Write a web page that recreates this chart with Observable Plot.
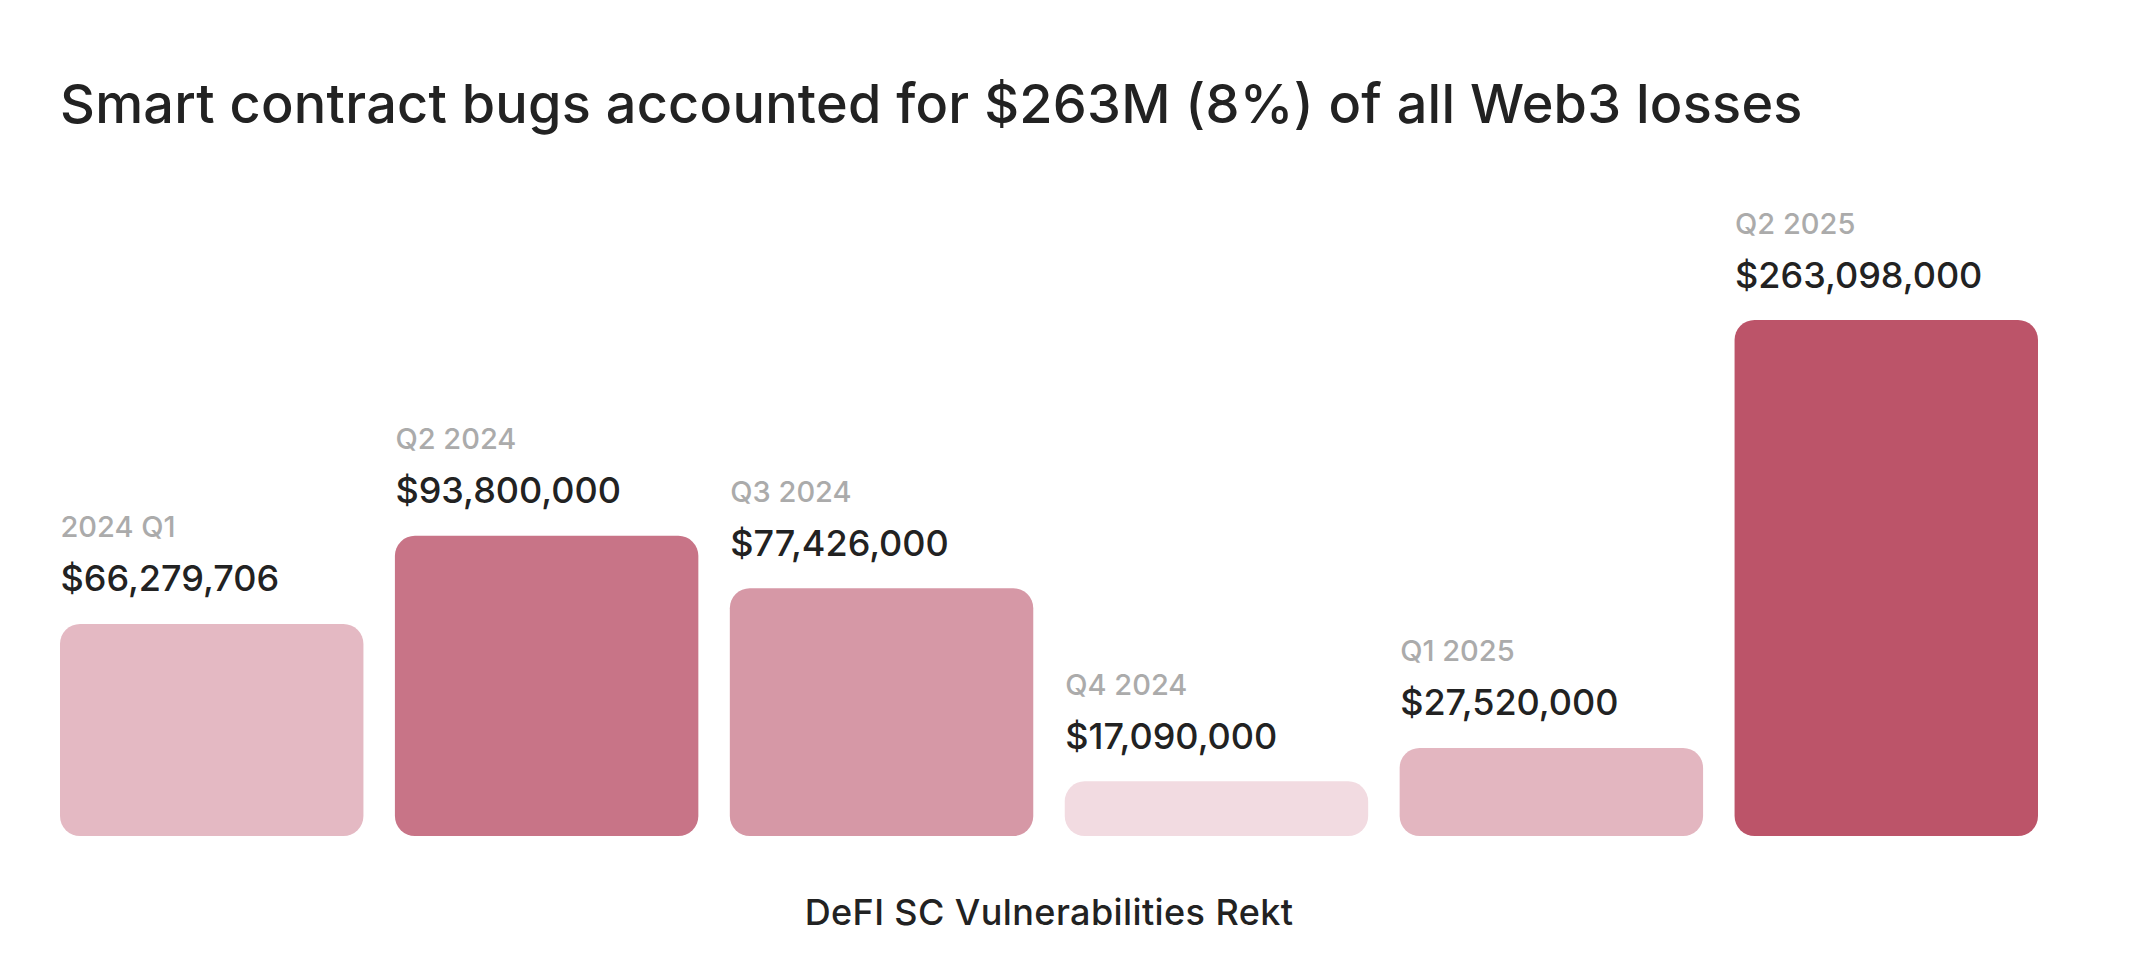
<!DOCTYPE html>
<html>
<head>
<meta charset="utf-8">
<script src="https://cdn.jsdelivr.net/npm/d3@7"></script>
<script src="https://cdn.jsdelivr.net/npm/@observablehq/plot@0.6"></script>
<style>
html, body { margin: 0; padding: 0; background: #ffffff; }
body { width: 2132px; height: 964px; overflow: hidden; font-family: Inter, "Noto Sans", sans-serif; }
#title { box-sizing: border-box; height: 150px; margin: 0; padding: 77px 0 0 60px; font-size: 54px; line-height: 54px; font-weight: 500; letter-spacing: 0.25px; color: #222222; white-space: nowrap; }
#chart svg { display: block; }
#caption { margin: 45px 0 0 60px; width: 1978px; text-align: center; font-size: 36px; line-height: 35px; font-weight: 500; letter-spacing: 0.4px; color: #222222; }
</style>
</head>
<body>
<div id="title">Smart contract bugs accounted for $263M (8%) of all Web3 losses</div>
<div id="chart"></div>
<div id="caption">DeFI SC Vulnerabilities Rekt</div>
<script>
const quarters = ["2024 Q1", "Q2 2024", "Q3 2024", "Q4 2024", "Q1 2025", "Q2 2025"];
const losses = [66279706, 93800000, 77426000, 17090000, 27520000, 263098000];
const barColors = ["#e4b9c3", "#c87487", "#d698a6", "#f2dbe1", "#e3b6c0", "#bc5469"];

const data = quarters.map((q, i) => ({quarter: q, value: losses[i]}));
const fmt = d3.format("$,");

const W = 2132, H = 700;
const left = 60, right = 2038, padIn = 0.094;
const step = (right - left) / (quarters.length - padIn);
const bw = step * (1 - padIn);

const chart = Plot.plot({
  width: W,
  height: H,
  marginLeft: left,
  marginRight: W - right,
  marginTop: 0,
  marginBottom: 0,
  style: {fontFamily: "Inter, 'Noto Sans', sans-serif", background: "#ffffff"},
  x: {domain: quarters, paddingInner: padIn, paddingOuter: 0, round: false, axis: null},
  y: {type: "linear", domain: [0, 100e6, 263098000], range: [686, 366, 170], axis: null},
  color: {domain: quarters, range: barColors},
  marks: [
    Plot.barY(data, {x: "quarter", y: "value", fill: "quarter", rx: 20}),
    Plot.text(data, {x: "quarter", y: "value", text: d => fmt(d.value), textAnchor: "start", lineAnchor: "bottom", dx: -bw / 2, dy: -33, fontSize: 36, fontWeight: 500, fill: "#222222"}),
    Plot.text(data, {x: "quarter", y: "value", text: "quarter", textAnchor: "start", lineAnchor: "bottom", dx: -bw / 2, dy: -87, fontSize: 29, fontWeight: 500, fill: "#ababab"})
  ]
});
document.getElementById("chart").appendChild(chart);
</script>
</body>
</html>
